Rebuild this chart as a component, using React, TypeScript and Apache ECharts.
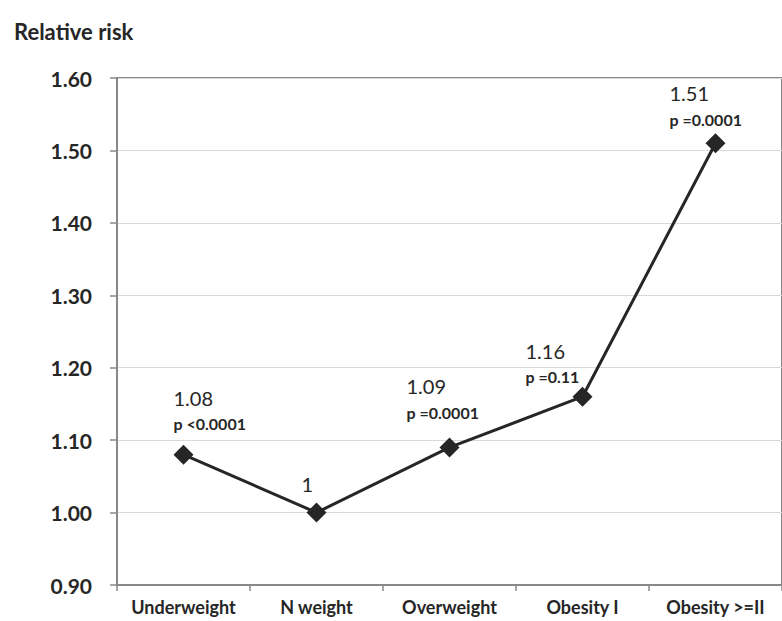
import React, { useEffect, useRef } from "react";
import * as echarts from "echarts";

const categories = ["Underweight", "N weight", "Overweight", "Obesity I", "Obesity >=II"];
const relativeRisk = [1.08, 1, 1.09, 1.16, 1.51];
const valueLabels = ["1.08", "1", "1.09", "1.16", "1.51"];
const pLabels = ["p <0.0001", "", "p =0.0001", "p =0.11", "p =0.0001"];
const yTicks = { min: 0.9, max: 1.6, interval: 0.1 };

// label placement (layout only)
const labelOffsets: [number, number][] = [
  [-10, -8],
  [-15, -6],
  [-43, -12],
  [-57, 3],
  [-46, -1],
];

export default function App() {
  const ref = useRef<HTMLDivElement>(null);
  useEffect(() => {
    if (!ref.current) return;
    const chart = echarts.init(ref.current, null, { renderer: "svg" });
    const font = "Lato, 'Open Sans', sans-serif";
    const data = relativeRisk.map((v, i) => ({
      value: v,
      label: {
        offset: labelOffsets[i],
        formatter: pLabels[i]
          ? `{v|${valueLabels[i]}}\n{p|${pLabels[i]}}`
          : `{v|${valueLabels[i]}}`,
      },
    }));
    chart.setOption({
      animation: false,
      backgroundColor: "#ffffff",
      textStyle: { fontFamily: font },
      title: {
        text: "Relative risk",
        left: 9,
        top: 15,
        textStyle: { fontFamily: font, fontSize: 22, fontWeight: "bold", color: "#262626" },
      },
      grid: {
        left: 117,
        top: 78,
        width: 670,
        height: 507,
        show: true,
        borderColor: "#888888",
        borderWidth: 2,
        backgroundColor: "transparent",
      },
      xAxis: {
        type: "category",
        data: categories,
        boundaryGap: true,
        axisLine: { show: true, lineStyle: { color: "#888888", width: 2 } },
        axisTick: { show: true, length: 6, lineStyle: { color: "#888888", width: 1.5 } },
        axisLabel: {
          interval: 0,
          hideOverlap: false,
          margin: 13,
          fontFamily: font,
          fontSize: 18,
          fontWeight: "bold",
          color: "#262626",
        },
      },
      yAxis: {
        type: "value",
        min: yTicks.min,
        max: yTicks.max,
        interval: yTicks.interval,
        axisLine: { show: true, lineStyle: { color: "#888888", width: 2 } },
        axisTick: { show: true, length: 7, lineStyle: { color: "#888888", width: 1.5 } },
        splitLine: { show: true, lineStyle: { color: "#d9d9d9", width: 1 } },
        axisLabel: {
          margin: 25,
          fontFamily: font,
          fontSize: 21,
          fontWeight: "bold",
          color: "#262626",
          formatter: (v: number) => v.toFixed(2),
        },
      },
      series: [
        {
          type: "line",
          data,
          symbol: "diamond",
          symbolSize: 20,
          lineStyle: { color: "#262626", width: 3 },
          itemStyle: { color: "#262626" },
          label: {
            show: true,
            position: "top",
            distance: 0,
            align: "left",
            verticalAlign: "bottom",
            color: "#262626",
            rich: {
              v: { fontFamily: font, fontSize: 20, fontWeight: "normal", color: "#262626", lineHeight: 26, align: "left" },
              p: { fontFamily: font, fontSize: 16, fontWeight: "bold", color: "#262626", lineHeight: 26, align: "left" },
            },
          },
        },
      ],
    });
    return () => chart.dispose();
  }, []);
  return (
    <div
      ref={ref}
      style={{ position: "fixed", left: 0, top: 0, width: 782, height: 621, background: "#fff" }}
    />
  );
}
